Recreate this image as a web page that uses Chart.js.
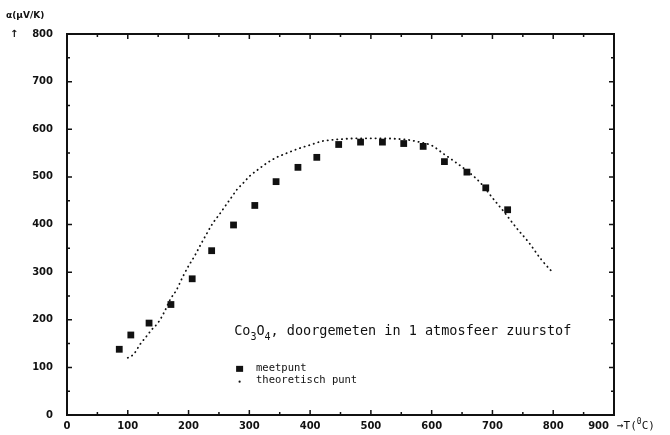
<!DOCTYPE html>
<html>
<head>
<meta charset="utf-8">
<script src="https://cdn.jsdelivr.net/npm/chart.js@4.4.0/dist/chart.umd.min.js"></script>
<style>
  html, body { margin: 0; padding: 0; background: #fff; }
  #wrap { width: 670px; height: 435px; }
</style>
</head>
<body>
<div id="wrap"><canvas id="seebeck" width="670" height="435"></canvas></div>
<script>
// meetpunten: temperatuur (°C) en thermokracht (µV/K)
const measTemp  = [86, 105, 135, 171, 206, 238, 274, 309, 344, 380, 411, 447, 483, 519, 554, 586, 621, 658, 689, 725];
const measAlpha = [138, 168, 193, 232, 286, 345, 399, 440, 490, 520, 541, 568, 573, 573, 570, 564, 532, 510, 477, 431];

// theoretische kromme
const theoTemp  = [100, 110, 120, 130, 140, 150, 160, 170, 180, 190, 200, 210, 220, 230, 240, 250, 260, 270, 280, 290,
                   300, 315, 330, 345, 360, 380, 400, 420, 440, 460, 480, 500, 520, 540, 560, 580, 600, 620, 640, 660,
                   680, 700, 720, 740, 760, 780, 800];
const theoAlpha = [120, 128, 148, 164, 180, 194, 216, 243, 262, 289, 313, 334, 358, 381, 403, 420, 438, 456, 474, 487,
                   501, 516, 530, 541, 549, 559, 567, 575, 578, 580, 581, 581, 581, 580, 578, 573, 566, 548, 530, 511,
                   488, 456, 425, 392, 362, 327, 298];

// as-indeling
const xTickValues = [0, 100, 200, 300, 400, 500, 600, 700, 800, 900];
const yTickValues = [0, 100, 200, 300, 400, 500, 600, 700, 800];

const INK = '#111';
const tickFont = { family: '"DejaVu Sans"', size: 10, weight: 'bold' };
const monoFont = '"DejaVu Sans Mono", "Liberation Mono", monospace';

// frame with inward tick marks on all four sides, plus the annotations
const framePlugin = {
  id: 'frame',
  afterDatasetsDraw(chart) {
    const { ctx, chartArea: a, scales: { x, y } } = chart;
    ctx.save();
    ctx.strokeStyle = INK;
    ctx.lineWidth = 2;
    ctx.strokeRect(a.left, a.top, a.right - a.left, a.bottom - a.top);

    ctx.lineWidth = 1.5;
    const xs = [];
    xTickValues.forEach((v, i) => {
      xs.push([v, 5]);
      if (i < xTickValues.length - 1) xs.push([(v + xTickValues[i + 1]) / 2, 3]);
    });
    xs.forEach(([v, len]) => {
      const px = x.getPixelForValue(v);
      ctx.beginPath();
      ctx.moveTo(px, a.bottom); ctx.lineTo(px, a.bottom - len);
      ctx.moveTo(px, a.top); ctx.lineTo(px, a.top + len);
      ctx.stroke();
    });
    const ys = [];
    yTickValues.forEach((v, i) => {
      ys.push([v, 5]);
      if (i < yTickValues.length - 1) ys.push([(v + yTickValues[i + 1]) / 2, 3]);
    });
    ys.forEach(([v, len]) => {
      const py = y.getPixelForValue(v);
      ctx.beginPath();
      ctx.moveTo(a.left, py); ctx.lineTo(a.left + len, py);
      ctx.moveTo(a.right, py); ctx.lineTo(a.right - len, py);
      ctx.stroke();
    });
    ctx.restore();
  },
  afterDraw(chart) {
    const { ctx, chartArea: a, scales: { x, y } } = chart;
    ctx.save();
    ctx.fillStyle = INK;
    ctx.textBaseline = 'middle';

    // axis titles
    ctx.font = 'bold 9px "DejaVu Sans"';
    ctx.textAlign = 'left';
    ctx.fillText('\u03b1(\u00b5V/K)', 6, 16);
    ctx.font = 'bold 10px "DejaVu Sans"';
    ctx.fillText('\u2191', 10, y.getPixelForValue(800));

    // last x label sits left of its tick to leave room for the unit
    const last = xTickValues[xTickValues.length - 1];
    const ty = a.bottom + 11;
    ctx.textAlign = 'right';
    ctx.fillText(String(last), a.right - 5, ty);
    ctx.textAlign = 'left';
    ctx.font = '11px ' + monoFont;
    let tx = a.right + 3;
    ctx.fillText('\u2192T(', tx, ty);
    tx += ctx.measureText('\u2192T(').width;
    ctx.font = '8px ' + monoFont;
    ctx.fillText('0', tx, ty - 4);
    tx += ctx.measureText('0').width;
    ctx.font = '11px ' + monoFont;
    ctx.fillText('C)', tx, ty);

    // Co3O4 caption with subscripts
    let cx = x.getPixelForValue(275);
    const cy = y.getPixelForValue(175);
    const parts = [['Co', 0], ['3', 1], ['O', 0], ['4', 1], [', doorgemeten in 1 atmosfeer zuurstof', 0]];
    parts.forEach(([s, sub]) => {
      ctx.font = (sub ? '10px ' : '13.5px ') + monoFont;
      ctx.fillText(s, cx, sub ? cy + 6 : cy);
      cx += ctx.measureText(s).width;
    });

    // legend
    const lx = x.getPixelForValue(284);
    const l1 = y.getPixelForValue(99);
    const l2 = y.getPixelForValue(72);
    ctx.fillRect(lx - 3.5, l1 - 2, 7, 6);
    ctx.beginPath();
    ctx.arc(lx, l2 + 1, 1.1, 0, Math.PI * 2);
    ctx.fill();
    ctx.font = '10.5px ' + monoFont;
    ctx.fillText('meetpunt', x.getPixelForValue(311), l1);
    ctx.fillText('theoretisch punt', x.getPixelForValue(311), l2);
    ctx.restore();
  }
};

const ctx = document.getElementById('seebeck').getContext('2d');

new Chart(ctx, {
  type: 'scatter',
  data: {
    datasets: [
      {
        label: 'meetpunt',
        data: measTemp.map((t, i) => ({ x: t, y: measAlpha[i] })),
        pointStyle: 'rect',
        pointRadius: 4.8,
        backgroundColor: INK,
        borderColor: INK,
        borderWidth: 0,
        showLine: false
      },
      {
        label: 'theoretisch punt',
        data: theoTemp.map((t, i) => ({ x: t, y: theoAlpha[i] })),
        showLine: true,
        pointRadius: 0,
        borderColor: INK,
        borderWidth: 1.8,
        borderDash: [0.3, 4.5],
        borderCapStyle: 'round',
        cubicInterpolationMode: 'monotone',
        fill: false
      }
    ]
  },
  options: {
    responsive: false,
    animation: false,
    devicePixelRatio: 1,
    layout: { padding: { top: 34, right: 56, left: 0, bottom: 0 } },
    scales: {
      x: {
        type: 'linear',
        min: 0,
        max: 900,
        afterBuildTicks: s => { s.ticks = xTickValues.map(v => ({ value: v })); },
        afterFit: s => { s.height = 18; },
        ticks: {
          font: tickFont, color: INK, padding: 5, maxRotation: 0, autoSkip: false,
          // 900 is drawn by the frame plugin next to the unit
          callback: v => (v === xTickValues[xTickValues.length - 1] ? '' : String(v))
        },
        grid: { display: false, drawTicks: false },
        border: { display: false }
      },
      y: {
        type: 'linear',
        min: 0,
        max: 800,
        afterBuildTicks: s => { s.ticks = yTickValues.map(v => ({ value: v })); },
        afterFit: s => { s.width = 67; },
        ticks: { font: tickFont, color: INK, padding: 14, autoSkip: false },
        grid: { display: false, drawTicks: false },
        border: { display: false }
      }
    },
    plugins: {
      legend: { display: false },
      tooltip: { enabled: false }
    }
  },
  plugins: [framePlugin]
});
</script>
</body>
</html>
